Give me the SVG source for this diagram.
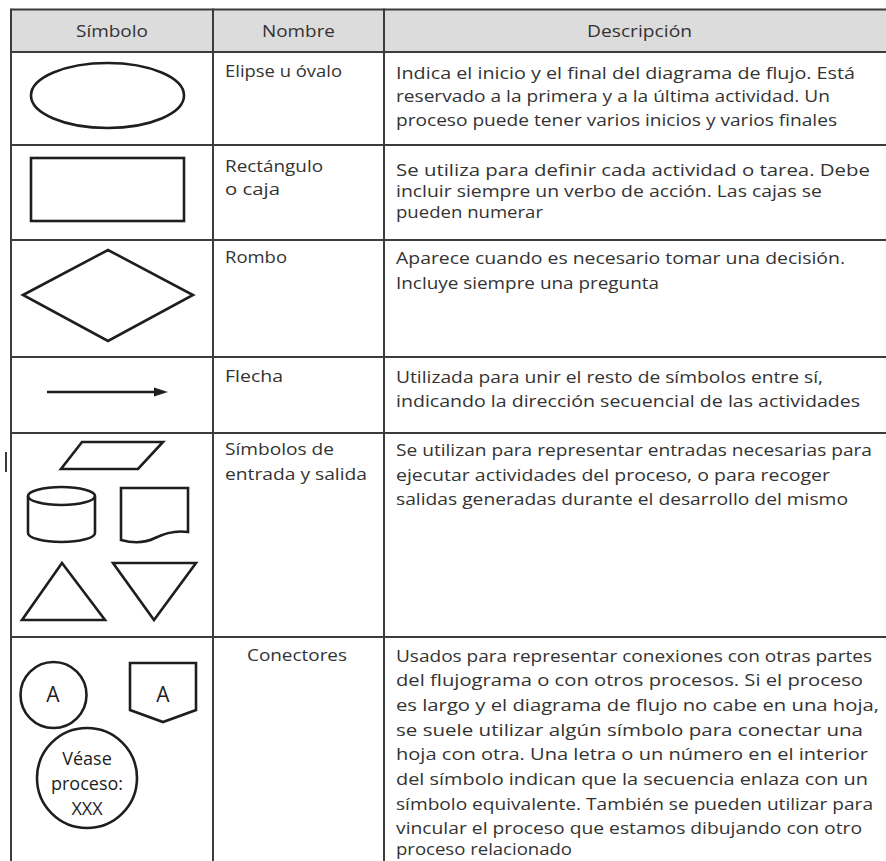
<svg xmlns="http://www.w3.org/2000/svg" width="886" height="861" viewBox="0 0 886 861">
<style>
.grid{stroke:#3c3c3c;stroke-width:2;fill:none}
.shape{stroke:#1e1e1e;stroke-width:2.6;fill:none;stroke-linejoin:miter}
.t{font-family:"Open Sans","Liberation Sans",sans-serif;font-size:17px;fill:#333}
.h{font-family:"Open Sans","Liberation Sans",sans-serif;font-size:17px;fill:#333;text-anchor:middle}
.c{font-family:"Open Sans","Liberation Sans",sans-serif;font-size:18px;fill:#1e1e1e;text-anchor:middle}
.big{font-size:21px}
</style>
<rect width="886" height="861" fill="#fff"/>
<g id="header">
<rect x="11" y="9.5" width="875" height="42.5" fill="#dcdcdc"/>
<text class="h" x="112" y="37" textLength="72" lengthAdjust="spacingAndGlyphs">Símbolo</text>
<text class="h" x="298.5" y="37" textLength="73" lengthAdjust="spacingAndGlyphs">Nombre</text>
<text class="h" x="639.5" y="37" textLength="105" lengthAdjust="spacingAndGlyphs">Descripción</text>
</g>
<g id="grid">
<line class="grid" x1="11" y1="9.5" x2="886" y2="9.5"/>
<line class="grid" x1="11" y1="52" x2="886" y2="52"/>
<line class="grid" x1="11" y1="145" x2="886" y2="145"/>
<line class="grid" x1="11" y1="240" x2="886" y2="240"/>
<line class="grid" x1="11" y1="357" x2="886" y2="357"/>
<line class="grid" x1="11" y1="433" x2="886" y2="433"/>
<line class="grid" x1="11" y1="637" x2="886" y2="637"/>
<line class="grid" x1="11" y1="8.5" x2="11" y2="861"/>
<line class="grid" x1="213" y1="8.5" x2="213" y2="861"/>
<line class="grid" x1="384" y1="8.5" x2="384" y2="861"/>
<line class="grid" x1="6" y1="452" x2="6" y2="472" stroke-width="1.5"/>
</g>
<g id="row-elipse">
<ellipse class="shape" cx="107.5" cy="95.5" rx="76.5" ry="32.5"/>
<text class="t" x="225" y="77" textLength="117" lengthAdjust="spacingAndGlyphs">Elipse u óvalo</text>
<text class="t" x="396" y="79" textLength="459" lengthAdjust="spacingAndGlyphs">Indica el inicio y el final del diagrama de flujo. Está</text>
<text class="t" x="396" y="102" textLength="434" lengthAdjust="spacingAndGlyphs">reservado a la primera y a la última actividad. Un</text>
<text class="t" x="396" y="126" textLength="441" lengthAdjust="spacingAndGlyphs">proceso puede tener varios inicios y varios finales</text>
</g>
<g id="row-rectangulo">
<rect class="shape" x="31" y="158" width="153" height="63"/>
<text class="t" x="225" y="172" textLength="98" lengthAdjust="spacingAndGlyphs">Rectángulo</text>
<text class="t" x="225" y="195" textLength="55" lengthAdjust="spacingAndGlyphs">o caja</text>
<text class="t" x="396" y="176" textLength="474" lengthAdjust="spacingAndGlyphs">Se utiliza para definir cada actividad o tarea. Debe</text>
<text class="t" x="396" y="197" textLength="426" lengthAdjust="spacingAndGlyphs">incluir siempre un verbo de acción. Las cajas se</text>
<text class="t" x="396" y="218" textLength="147" lengthAdjust="spacingAndGlyphs">pueden numerar</text>
</g>
<g id="row-rombo">
<polygon class="shape" points="23,295 108,250 193,295 108,341"/>
<text class="t" x="225" y="263" textLength="62" lengthAdjust="spacingAndGlyphs">Rombo</text>
<text class="t" x="396" y="264" textLength="449" lengthAdjust="spacingAndGlyphs">Aparece cuando es necesario tomar una decisión.</text>
<text class="t" x="396" y="289" textLength="263" lengthAdjust="spacingAndGlyphs">Incluye siempre una pregunta</text>
</g>
<g id="row-flecha">
<line class="shape" x1="47" y1="392" x2="158" y2="392" stroke-width="2.2"/>
<polygon points="154,387.5 168,392 154,396.5" fill="#1e1e1e"/>
<text class="t" x="225" y="382" textLength="58" lengthAdjust="spacingAndGlyphs">Flecha</text>
<text class="t" x="396" y="383" textLength="427" lengthAdjust="spacingAndGlyphs">Utilizada para unir el resto de símbolos entre sí,</text>
<text class="t" x="396" y="407" textLength="464" lengthAdjust="spacingAndGlyphs">indicando la dirección secuencial de las actividades</text>
</g>
<g id="row-entrada-salida">
<polygon class="shape" points="82,442 163,442 138,469 61,469"/>
<path class="shape" d="M28,496 V533 A33.5,9 0 0 0 95,533 V496"/>
<ellipse class="shape" cx="61.5" cy="496" rx="33.5" ry="9"/>
<path class="shape" d="M121,488 H188 V532 C175,530 165,533 155,538 C145,543 132,543 121,540 Z"/>
<polygon class="shape" points="62,563 105,620 22,620"/>
<polygon class="shape" points="113,563 196,563 154,620"/>
<text class="t" x="225" y="455" textLength="109" lengthAdjust="spacingAndGlyphs">Símbolos de</text>
<text class="t" x="225" y="480" textLength="142" lengthAdjust="spacingAndGlyphs">entrada y salida</text>
<text class="t" x="396" y="456" textLength="476" lengthAdjust="spacingAndGlyphs">Se utilizan para representar entradas necesarias para</text>
<text class="t" x="396" y="481" textLength="434" lengthAdjust="spacingAndGlyphs">ejecutar actividades del proceso, o para recoger</text>
<text class="t" x="396" y="505" textLength="452" lengthAdjust="spacingAndGlyphs">salidas generadas durante el desarrollo del mismo</text>
</g>
<g id="row-conectores">
<circle class="shape" cx="53.5" cy="695" r="33"/>
<text class="c big" x="53" y="702">A</text>
<polygon class="shape" points="130,663 196,663 196,710 163,722 130,710"/>
<text class="c big" x="163" y="702">A</text>
<circle class="shape" cx="87" cy="778" r="50"/>
<text class="c" x="87" y="765">Véase</text>
<text class="c" x="87" y="790">proceso:</text>
<text class="c" x="87" y="815">XXX</text>
<text class="h" x="297" y="661" textLength="100" lengthAdjust="spacingAndGlyphs">Conectores</text>
<text class="t" x="396" y="662" textLength="476" lengthAdjust="spacingAndGlyphs">Usados para representar conexiones con otras partes</text>
<text class="t" x="396" y="686" textLength="467" lengthAdjust="spacingAndGlyphs">del flujograma o con otros procesos. Si el proceso</text>
<text class="t" x="396" y="711" textLength="483" lengthAdjust="spacingAndGlyphs">es largo y el diagrama de flujo no cabe en una hoja,</text>
<text class="t" x="396" y="736" textLength="467" lengthAdjust="spacingAndGlyphs">se suele utilizar algún símbolo para conectar una</text>
<text class="t" x="396" y="760" textLength="472" lengthAdjust="spacingAndGlyphs">hoja con otra. Una letra o un número en el interior</text>
<text class="t" x="396" y="785" textLength="472" lengthAdjust="spacingAndGlyphs">del símbolo indican que la secuencia enlaza con un</text>
<text class="t" x="396" y="810" textLength="477" lengthAdjust="spacingAndGlyphs">símbolo equivalente. También se pueden utilizar para</text>
<text class="t" x="396" y="834" textLength="466" lengthAdjust="spacingAndGlyphs">vincular el proceso que estamos dibujando con otro</text>
<text class="t" x="396" y="855" textLength="176" lengthAdjust="spacingAndGlyphs">proceso relacionado</text>
</g>
</svg>
